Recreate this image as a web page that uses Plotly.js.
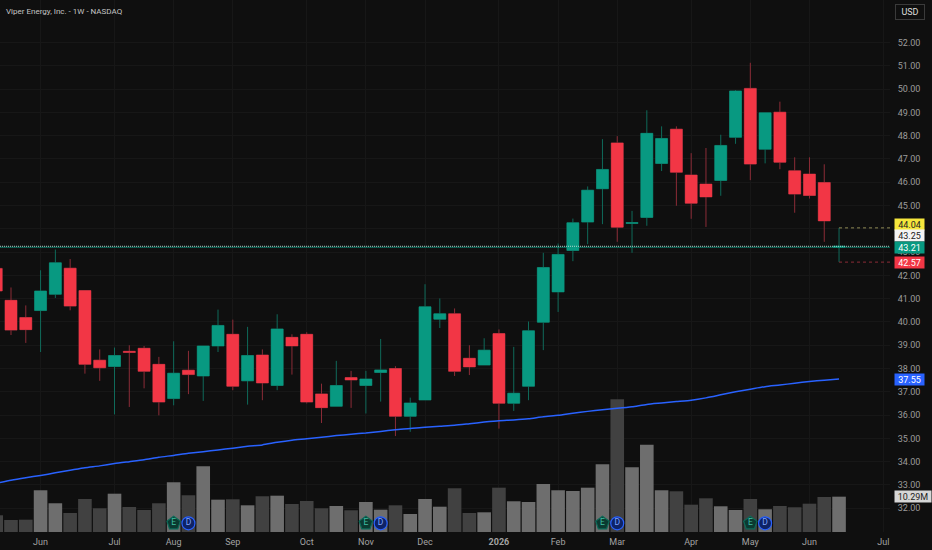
<!DOCTYPE html>
<html>
<head>
<meta charset="utf-8">
<script src="https://cdn.plot.ly/plotly-3.0.1.min.js"></script>
<style>html,body{margin:0;padding:0;background:#0f0f0f;overflow:hidden}#c{width:932px;height:550px}</style>
</head>
<body>
<div id="c"></div>
<script>
const chartTitle = "Viper Energy, Inc. - 1W - NASDAQ";
const dates = ["2025-05-12","2025-05-19","2025-05-26","2025-06-02","2025-06-09","2025-06-16","2025-06-23","2025-06-30","2025-07-07","2025-07-14","2025-07-21","2025-07-28","2025-08-04","2025-08-11","2025-08-18","2025-08-25","2025-09-01","2025-09-08","2025-09-15","2025-09-22","2025-09-29","2025-10-06","2025-10-13","2025-10-20","2025-10-27","2025-11-03","2025-11-10","2025-11-17","2025-11-24","2025-12-01","2025-12-08","2025-12-15","2025-12-22","2025-12-29","2026-01-05","2026-01-12","2026-01-19","2026-01-26","2026-02-02","2026-02-09","2026-02-16","2026-02-23","2026-03-02","2026-03-09","2026-03-16","2026-03-23","2026-03-30","2026-04-06","2026-04-13","2026-04-20","2026-04-27","2026-05-04","2026-05-11","2026-05-18","2026-05-25","2026-06-01","2026-06-08","2026-06-15"];
const opens = [42.30,40.93,40.19,40.49,41.19,42.31,41.35,38.36,38.09,38.74,38.87,38.18,36.71,37.93,37.68,38.97,39.47,37.47,38.58,37.27,39.34,39.47,36.91,36.38,37.61,37.27,37.83,38.00,35.95,36.65,40.12,40.35,38.44,38.15,39.50,36.51,37.24,39.99,41.29,43.07,44.29,45.72,47.69,44.23,44.49,46.81,48.28,46.31,45.92,46.08,47.93,50.03,47.42,49.01,46.49,46.35,45.99,43.21];
const highs = [42.60,41.48,40.71,42.22,43.11,42.70,41.35,38.82,38.90,39.00,38.97,38.50,39.17,38.76,38.97,40.53,40.10,39.79,38.82,40.33,39.47,39.56,37.35,38.33,37.90,37.90,39.27,38.10,36.75,41.62,41.01,40.58,39.00,39.30,39.68,38.93,40.02,42.97,43.37,44.44,45.82,47.85,47.98,44.77,49.09,48.40,48.40,47.25,47.47,48.04,49.96,51.13,48.98,49.46,47.07,47.07,46.77,44.04];
const lows = [41.20,39.44,39.10,38.71,41.03,40.50,37.78,37.47,36.03,36.35,37.15,35.99,36.42,36.90,36.61,38.71,37.07,36.45,36.64,37.07,37.74,36.50,35.66,36.38,36.31,36.07,36.58,35.10,35.28,36.65,39.74,37.68,37.72,38.15,35.42,36.18,36.64,38.79,40.43,42.61,43.34,44.20,43.44,42.97,44.13,46.48,44.99,44.43,44.08,45.42,47.65,46.09,46.81,46.56,44.69,45.30,43.44,42.57];
const closes = [41.33,39.65,39.67,41.33,42.54,40.68,38.18,38.03,38.56,38.69,37.88,36.56,37.80,37.74,38.97,39.85,37.24,38.56,37.38,39.70,38.97,36.56,36.32,37.27,37.51,37.55,37.94,35.95,36.52,40.65,40.35,37.88,38.07,38.79,36.51,36.94,39.62,42.34,42.90,44.26,45.66,46.55,44.07,44.27,48.10,47.88,46.43,45.10,45.37,47.58,49.92,46.78,48.98,46.86,45.49,45.43,44.34,43.25];
const volumes = [4.87,3.50,3.59,12.16,8.37,5.54,9.62,6.91,11.16,7.29,6.41,8.37,14.49,10.70,19.15,9.42,9.53,7.78,10.41,10.58,8.16,9.04,6.91,7.58,6.33,8.75,6.50,7.78,5.25,9.62,7.37,12.74,5.54,5.74,12.91,8.95,8.75,13.99,12.16,11.95,12.91,19.73,38.68,18.86,25.45,12.16,11.86,7.96,9.82,7.49,6.41,9.62,6.62,7.58,7.20,8.25,10.20,10.29];
const maValues = [33.07,33.20,33.31,33.41,33.52,33.63,33.74,33.82,33.92,34.00,34.08,34.19,34.27,34.36,34.43,34.50,34.58,34.66,34.72,34.83,34.92,34.98,35.05,35.12,35.18,35.23,35.30,35.37,35.42,35.48,35.52,35.56,35.63,35.70,35.76,35.79,35.84,35.93,35.99,36.08,36.16,36.23,36.29,36.36,36.46,36.52,36.58,36.64,36.74,36.87,37.00,37.11,37.22,37.29,37.37,37.44,37.50,37.55];
const monthTicks = ["2025-06-02","2025-07-07","2025-08-04","2025-09-01","2025-10-06","2025-11-03","2025-12-01","2026-01-05","2026-02-02","2026-03-02","2026-04-06","2026-05-04","2026-06-01","2026-07-06"];
const monthLabels = ["Jun","Jul","Aug","Sep","Oct","Nov","Dec","<b>2026</b>","Feb","Mar","Apr","May","Jun","Jul"];
const priceTicks = [32,33,34,35,36,37,38,39,40,41,42,43,44,45,46,47,48,49,50,51,52];
const earningsDates = ["2025-08-04","2025-11-03","2026-02-23","2026-05-04"];
const dividendDates = ["2025-05-12","2025-08-11","2025-11-10","2026-03-02","2026-05-11"];
const highLevel = 44.04, lastLevel = 43.25, closeLevel = 43.21, lowLevel = 42.57, maLevel = 37.55;
const volumeLabel = "10.29M", volumeLevel = 10.29;
const badgeLevel = 2.54;

const FONT = "Roboto, 'Liberation Sans', sans-serif";
const UP = "#089981", DOWN = "#f23645", UPW = "#0f6a5a", DOWNW = "#8c2c37";
const barColors = opens.map((o, i) => closes[i] >= o ? "#6e6e6e" : "#414141");
const bodyHigh = opens.map((o, i) => Math.max(o, closes[i]));
const bodyLow = opens.map((o, i) => Math.min(o, closes[i]));
const X0 = "2025-05-13 19:00", X1 = "2026-07-09 03:00";

const traces = [
  {type:"bar", x:dates, y:volumes, yaxis:"y", marker:{color:barColors, line:{width:0}}, hoverinfo:"skip", showlegend:false},
  {type:"candlestick", x:dates, open:opens, high:highs, low:lows, close:closes, yaxis:"y2",
   increasing:{line:{color:UPW,width:1}, fillcolor:UP}, decreasing:{line:{color:DOWNW,width:1}, fillcolor:DOWN},
   whiskerwidth:0, hoverinfo:"skip", showlegend:false},
  {type:"candlestick", x:dates, open:opens, high:bodyHigh, low:bodyLow, close:closes, yaxis:"y2",
   increasing:{line:{color:UP,width:0}, fillcolor:UP}, decreasing:{line:{color:DOWN,width:0}, fillcolor:DOWN},
   whiskerwidth:0, hoverinfo:"skip", showlegend:false},
  {type:"scatter", mode:"lines", x:dates, y:maValues, yaxis:"y2", line:{color:"#2962ff", width:1.5, shape:"spline", smoothing:0.6}, hoverinfo:"skip", showlegend:false},
  {type:"scatter", mode:"markers+text", x:earningsDates, y:earningsDates.map(() => badgeLevel), yaxis:"y", text:earningsDates.map(() => "E"),
   textposition:"middle center", textfont:{family:FONT, size:8.5, color:"#3fbfa4"},
   marker:{symbol:"pentagon", size:14, color:"#0b3a31", line:{color:"#0c6a58", width:1.2}}, hoverinfo:"skip", showlegend:false, cliponaxis:false},
  {type:"scatter", mode:"markers+text", x:dividendDates, y:dividendDates.map(() => badgeLevel), yaxis:"y", text:dividendDates.map(() => "D"),
   textposition:"middle center", textfont:{family:FONT, size:8.5, color:"#7fa3ff"},
   marker:{symbol:"circle", size:13, color:"#0e2366", line:{color:"#2962ff", width:1.2}}, hoverinfo:"skip", showlegend:false}
];

function priceTag(text, level, bg, fg, shift) {
  return {xref:"paper", yref:"y2", x:1, y:level, xanchor:"left", yanchor:"middle", xshift:3.5, yshift:shift, text:text,
    showarrow:false, bgcolor:bg, borderpad:0, width:29, height:11, align:"center", font:{family:FONT, size:9, color:fg}};
}

const annotations = [
  {xref:"paper", yref:"paper", x:0, y:1, xshift:4, yshift:-11, xanchor:"left", yanchor:"middle", text:chartTitle, showarrow:false, font:{family:FONT, size:8, color:"#c4c4c4"}},
  {xref:"paper", yref:"paper", x:1, y:1, xshift:5, yshift:-11.5, xanchor:"left", yanchor:"middle", text:"USD", showarrow:false, width:28, height:14, borderpad:0, bordercolor:"#3a3a3a", borderwidth:1, font:{family:FONT, size:9, color:"#dddddd"}},
  priceTag(highLevel.toFixed(2), highLevel, "#f5e63c", "#222222", 3),
  priceTag(lastLevel.toFixed(2), lastLevel, "#f4f4f4", "#222222", 10.5),
  priceTag(closeLevel.toFixed(2), closeLevel, UP, "#ffffff", 0),
  priceTag(lowLevel.toFixed(2), lowLevel, DOWN, "#ffffff", 0),
  priceTag(maLevel.toFixed(2), maLevel, "#2962ff", "#ffffff", 0),
  {xref:"paper", yref:"y", x:1, y:volumeLevel, xanchor:"left", yanchor:"middle", xshift:3.5, text:volumeLabel, showarrow:false, bgcolor:"#d6d6d6", borderpad:0, width:36, height:11, font:{family:FONT, size:9, color:"#222222"}}
];

const lastDate = dates[dates.length - 1];
const shapes = [
  {type:"line", xref:"paper", yref:"y2", x0:0, x1:1, y0:closeLevel, y1:closeLevel, line:{color:"#089981", width:0.8}},
  {type:"line", xref:"paper", yref:"y2", x0:0, x1:1, y0:lastLevel, y1:lastLevel, line:{color:"#dfe9e4", width:0.8, dash:"1px,1px"}},
  {type:"line", xref:"x", yref:"y2", x0:lastDate, x1:X1, y0:highLevel, y1:highLevel, line:{color:"#8f8a55", width:1, dash:"3px,3px"}},
  {type:"line", xref:"x", yref:"y2", x0:lastDate, x1:X1, y0:lowLevel, y1:lowLevel, line:{color:"#8c2c37", width:1, dash:"3px,3px"}}
];

const layout = {
  width:932, height:550, margin:{l:0, r:42, t:0, b:18.3},
  paper_bgcolor:"#0f0f0f", plot_bgcolor:"#0f0f0f", showlegend:false,
  font:{family:FONT, size:9, color:"#9c9c9c"},
  bargap:0.08, boxgap:0.19, boxgroupgap:0, boxmode:"overlay",
  xaxis:{type:"date", range:[X0, X1], tickmode:"array", tickvals:monthTicks, ticktext:monthLabels, showgrid:true, gridcolor:"#171717", gridwidth:1,
    rangeslider:{visible:false}, zeroline:false, showline:false, ticks:"outside", ticklen:1, tickcolor:"rgba(0,0,0,0)", tickfont:{family:FONT, size:9, color:"#a3a3a3"}},
  yaxis:{range:[0,155], visible:false, showgrid:false, zeroline:false, fixedrange:true},
  yaxis2:{overlaying:"y", side:"right", range:[30.98,53.826], tickmode:"array", tickvals:priceTicks, tickformat:".2f", showgrid:true, gridcolor:"#171717", gridwidth:1,
    zeroline:false, showline:false, ticks:"outside", ticklen:5, tickcolor:"rgba(0,0,0,0)", tickfont:{family:FONT, size:9, color:"#9c9c9c"}},
  annotations, shapes
};
Plotly.newPlot("c", traces, layout, {displayModeBar:false, staticPlot:true});
</script>
</body>
</html>
